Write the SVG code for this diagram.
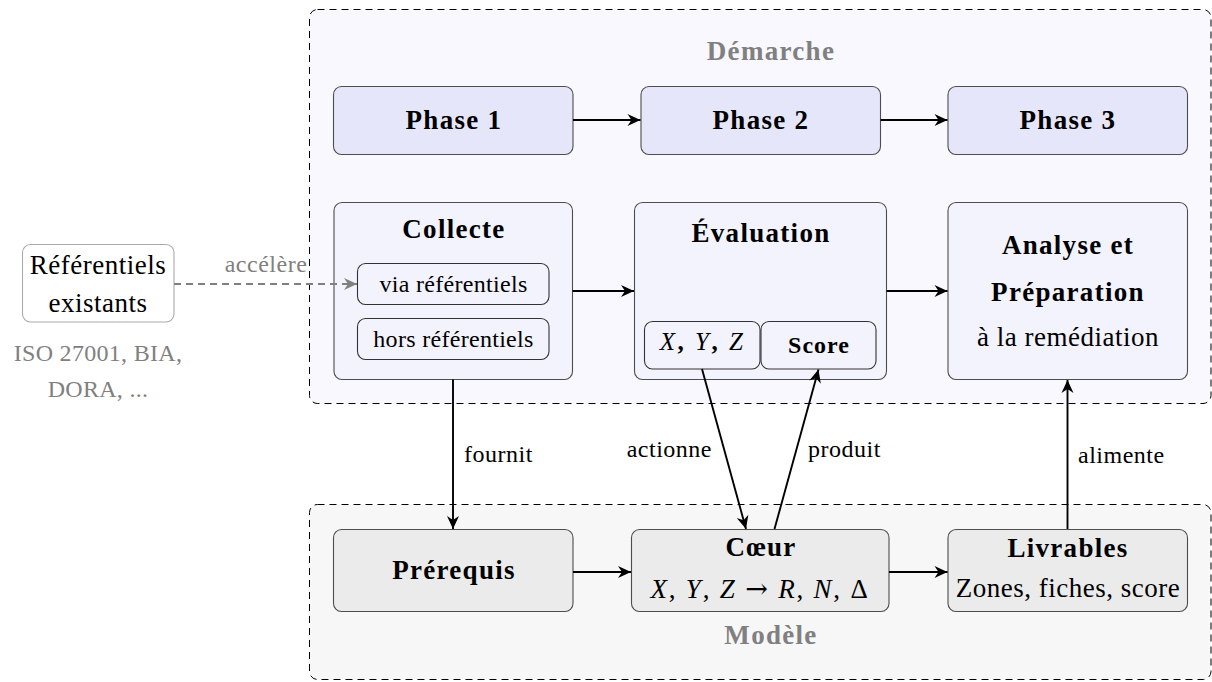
<svg xmlns="http://www.w3.org/2000/svg" width="1212" height="682" viewBox="0 0 1212 682">
  <defs>
    <marker id="arrow" markerUnits="userSpaceOnUse" markerWidth="18" markerHeight="16" viewBox="-15 -8 18 16" refX="0" refY="0" orient="auto">
      <path d="M0,0 L-13,-6 L-9,0 L-13,6 Z" fill="#000"/>
    </marker>
    <marker id="arrow-gray" markerUnits="userSpaceOnUse" markerWidth="18" markerHeight="16" viewBox="-15 -8 18 16" refX="0" refY="0" orient="auto">
      <path d="M0,0 L-13,-6 L-9,0 L-13,6 Z" fill="#808080"/>
    </marker>
    <style>
      text { font-family: "Liberation Serif", "Times New Roman", serif; fill: #000; }
      .b { font-weight: bold; font-size: 27px; letter-spacing: 1.3px; text-anchor: middle; }
      .r { font-size: 27px; letter-spacing: 0.5px; text-anchor: middle; }
      .s { font-size: 24px; letter-spacing: 0.3px; text-anchor: middle; }
      .sb { font-size: 24px; font-weight: bold; letter-spacing: 1px; text-anchor: middle; }
      .lbl { font-size: 24px; letter-spacing: 0.5px; }
      .title { font-weight: bold; font-size: 27px; letter-spacing: 1.3px; text-anchor: middle; fill: #808080; }
      .gray { fill: #808080; }
      .it { font-style: italic; }
      .sym { font-family: "DejaVu Serif", serif; font-style: normal; }
      .frame { stroke: #000; stroke-width: 1; stroke-dasharray: 7 5; }
      .phase { fill: #e6e6fa; stroke: #4d4d4d; stroke-width: 1.1; }
      .step { fill: #f3f3fd; stroke: #4d4d4d; stroke-width: 1.1; }
      .sub { fill: #f3f3fd; stroke: #333; stroke-width: 1.1; }
      .model { fill: #ebebeb; stroke: #4d4d4d; stroke-width: 1.1; }
      .ref { fill: #fff; stroke: #aaa; stroke-width: 1.1; }
      .edge { fill: none; stroke: #000; stroke-width: 1.9; marker-end: url(#arrow); }
      .edge-dash { fill: none; stroke: #808080; stroke-width: 1.9; stroke-dasharray: 7 5; marker-end: url(#arrow-gray); }
    </style>
  </defs>

  <rect width="1212" height="682" fill="#fff"/>

  <!-- Containers -->
  <g id="demarche">
    <rect class="frame" x="309.5" y="9.5" width="901.5" height="394" rx="8" fill="#f8f8fe"/>
    <text class="title" x="771" y="60">Démarche</text>
  </g>
  <g id="modele">
    <rect class="frame" x="309.5" y="504.5" width="901.5" height="175" rx="8" fill="#f7f7f7"/>
    <text class="title" x="771" y="644">Modèle</text>
  </g>

  <!-- Phases -->
  <g id="phase1">
    <rect class="phase" x="333.5" y="86.5" width="239.5" height="68" rx="8"/>
    <text class="b" x="454" y="129">Phase 1</text>
  </g>
  <g id="phase2">
    <rect class="phase" x="641" y="86.5" width="239.5" height="68" rx="8"/>
    <text class="b" x="761" y="129">Phase 2</text>
  </g>
  <g id="phase3">
    <rect class="phase" x="948" y="86.5" width="239.5" height="68" rx="8"/>
    <text class="b" x="1068" y="129">Phase 3</text>
  </g>

  <!-- Steps -->
  <g id="collecte">
    <rect class="step" x="334" y="202.5" width="238.5" height="177" rx="8"/>
    <text class="b" x="454" y="238">Collecte</text>
    <g id="via-referentiels">
      <rect class="sub" x="357.5" y="263.5" width="191.5" height="41" rx="8"/>
      <text class="s" x="453.5" y="292">via référentiels</text>
    </g>
    <g id="hors-referentiels">
      <rect class="sub" x="357.5" y="318.5" width="191.5" height="41" rx="8"/>
      <text class="s" x="453.5" y="347">hors référentiels</text>
    </g>
  </g>

  <g id="evaluation">
    <rect class="step" x="634.5" y="202.5" width="252" height="177" rx="8"/>
    <text class="b" x="761" y="241.5">Évaluation</text>
    <g id="eval-xyz">
      <rect class="sub" x="644.5" y="321.5" width="115.5" height="47.5" rx="8"/>
      <text class="s" x="702.5" y="350" style="font-size:25px;letter-spacing:2.5px"><tspan class="it">X</tspan><tspan font-weight="bold">,</tspan> <tspan class="it">Y</tspan><tspan font-weight="bold">,</tspan> <tspan class="it">Z</tspan></text>
    </g>
    <g id="eval-score">
      <rect class="sub" x="761" y="321.5" width="115" height="47.5" rx="8"/>
      <text class="sb" x="819" y="353">Score</text>
    </g>
  </g>

  <g id="analyse">
    <rect class="step" x="948" y="202.5" width="239.5" height="177" rx="8"/>
    <text class="b" x="1068" y="254">Analyse et</text>
    <text class="b" x="1068" y="300.5">Préparation</text>
    <text class="r" x="1068" y="345.5">à la remédiation</text>
  </g>

  <!-- Model nodes -->
  <g id="prerequis">
    <rect class="model" x="333.5" y="529.5" width="239.5" height="82" rx="8"/>
    <text class="b" x="454" y="579">Prérequis</text>
  </g>
  <g id="coeur">
    <rect class="model" x="631.5" y="529.5" width="257.5" height="82" rx="8"/>
    <text class="b" x="761" y="556">Cœur</text>
    <text class="r" x="760" y="597.5" style="letter-spacing:1.8px"><tspan class="it">X</tspan>, <tspan class="it">Y</tspan>, <tspan class="it">Z</tspan> <tspan class="sym">→</tspan> <tspan class="it">R</tspan>, <tspan class="it">N</tspan>, Δ</text>
  </g>
  <g id="livrables">
    <rect class="model" x="948" y="529.5" width="239.5" height="82" rx="8"/>
    <text class="b" x="1068" y="556.5">Livrables</text>
    <text class="r" x="1068" y="597">Zones, fiches, score</text>
  </g>

  <!-- External references -->
  <g id="referentiels">
    <rect class="ref" x="22.5" y="244.5" width="151.5" height="77.5" rx="8"/>
    <text class="r" x="98" y="274">Référentiels</text>
    <text class="r" x="98" y="312">existants</text>
    <text class="s gray" x="98" y="361">ISO 27001, BIA,</text>
    <text class="s gray" x="98" y="397">DORA, ...</text>
  </g>

  <!-- Connectors -->
  <g id="connectors">
    <line class="edge" x1="573" y1="120" x2="640.5" y2="120"/>
    <line class="edge" x1="880.5" y1="120" x2="947.5" y2="120"/>
    <line class="edge" x1="572.5" y1="291" x2="634" y2="291"/>
    <line class="edge" x1="886.5" y1="291" x2="947.5" y2="291"/>
    <line class="edge-dash" x1="174" y1="284" x2="357" y2="284"/>
    <text class="lbl gray" x="266" y="272" text-anchor="middle">accélère</text>

    <line class="edge" x1="453" y1="379.5" x2="453" y2="529"/>
    <text class="lbl" x="464" y="462">fournit</text>

    <line class="edge" x1="702" y1="369" x2="746" y2="529"/>
    <text class="lbl" x="712" y="457" text-anchor="end">actionne</text>

    <line class="edge" x1="774.5" y1="529" x2="818.5" y2="369.5"/>
    <text class="lbl" x="808" y="457">produit</text>

    <line class="edge" x1="1067.5" y1="529" x2="1067.5" y2="380"/>
    <text class="lbl" x="1078" y="462.5">alimente</text>

    <line class="edge" x1="573" y1="572" x2="631" y2="572"/>
    <line class="edge" x1="889" y1="572" x2="947.5" y2="572"/>
  </g>
</svg>
